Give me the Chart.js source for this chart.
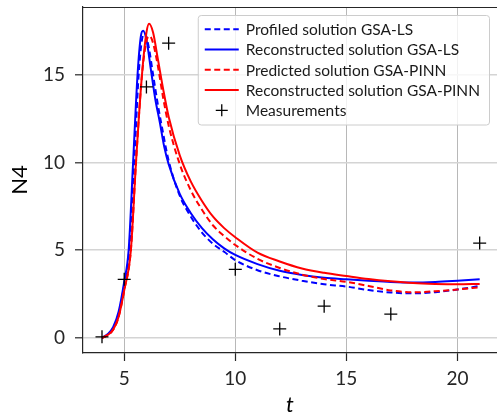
<!DOCTYPE html>
<html>
<head>
<meta charset="utf-8">
<script src="https://cdn.jsdelivr.net/npm/chart.js@4/dist/chart.umd.min.js"></script>
<style>
html,body{margin:0;padding:0;background:#fff;overflow:hidden;}
canvas{display:block;}
</style>
</head>
<body>
<canvas id="c" width="497" height="416"></canvas>
<script>
// ---- data ----
const xTicks = [5, 10, 15, 20];
const yTicks = [0, 5, 10, 15];

const tMeas = [4, 5, 6, 7, 10, 12, 14, 17, 21];
const yMeas = [0.05, 3.33, 14.3, 16.8, 3.9, 0.5, 1.8, 1.35, 5.4];

const tProfLS = [4,4.25,4.5,4.75,5,5.2,5.45,5.65,5.8,5.93,6.1,6.3,6.5,6.7,7,7.5,8,8.5,9,9.5,10,11,12,13,14,15,16,17,18,19,20,21];
const yProfLS = [0,0.15,0.5,1.3,3.0,4.6,10.0,15.0,17.0,17.35,16.6,15.0,13.4,12.0,10.1,8.1,6.9,6.0,5.35,4.9,4.43,3.85,3.5,3.25,3.05,2.92,2.72,2.58,2.53,2.6,2.75,2.95];

const tRecLS = [4,4.25,4.5,4.75,5,5.2,5.4,5.6,5.75,5.85,6,6.2,6.4,6.6,6.8,7,7.5,8,8.5,9,9.5,10,11,12,13,14,15,16,17,18,19,20,21];
const yRecLS = [0,0.2,0.6,1.5,3.2,5.0,10.0,15.0,17.2,17.5,17.0,15.3,13.6,12.3,10.9,9.9,8.2,7.1,6.25,5.6,5.1,4.72,4.2,3.82,3.58,3.42,3.33,3.25,3.18,3.15,3.18,3.25,3.33];

const tPredPINN = [4,4.25,4.5,4.75,5,5.3,5.53,5.8,6,6.15,6.3,6.5,6.75,7,7.5,8,8.5,9,9.5,10,11,12,13,14,15,16,17,18,19,20,21];
const yPredPINN = [0,0.15,0.45,1.2,2.7,5.0,10.0,15.0,16.9,17.2,16.8,15.6,13.7,12.1,9.9,8.4,7.3,6.4,5.8,5.29,4.5,3.98,3.6,3.35,3.19,2.95,2.7,2.59,2.65,2.75,2.88];

const tRecPINN = [4,4.25,4.5,4.75,5,5.3,5.53,5.8,6,6.12,6.3,6.5,6.75,7,7.5,8,8.5,9,9.5,10,11,12,13,14,15,16,17,18,19,20,21];
const yRecPINN = [0,0.15,0.45,1.2,2.7,5.0,10.0,15.0,17.4,17.9,17.4,16.0,14.2,12.6,10.4,8.9,7.8,6.9,6.25,5.73,4.85,4.35,3.95,3.7,3.52,3.35,3.22,3.12,3.07,3.05,3.07];

const labels = [
  'Profiled solution GSA-LS',
  'Reconstructed solution GSA-LS',
  'Predicted solution GSA-PINN',
  'Reconstructed solution GSA-PINN',
  'Measurements'
];

const pts = (xs, ys) => xs.map((x, i) => ({x: x, y: ys[i]}));

const BLUE = '#0000ff', RED = '#ff0000', AXIS = '#262626';
const DASH = [6, 3.5];

const lineDs = (label, xs, ys, color, dash, order) => ({
  type: 'line', label, data: pts(xs, ys), borderColor: color, backgroundColor: color,
  borderWidth: 2, borderDash: dash, pointRadius: 0, fill: false,
  cubicInterpolationMode: 'monotone', order
});

// legend + top spine plugin
const legendPlugin = {
  id: 'boxLegend',
  afterDatasetsDraw(chart) {
    const ctx = chart.ctx, ca = chart.chartArea;
    ctx.save();
    ctx.strokeStyle = AXIS; ctx.lineWidth = 1.2;
    ctx.beginPath(); ctx.moveTo(ca.left, ca.top + 0.5); ctx.lineTo(ca.right, ca.top + 0.5); ctx.stroke();

    ctx.font = '15.5px Lato';
    let maxW = 0;
    labels.forEach(l => { maxW = Math.max(maxW, ctx.measureText(l).width); });
    const rowH = 20.3, sample = 34, padL = 7, gap = 7, padR = 9;
    const w = padL + sample + gap + maxW + padR;
    const h = rowH * labels.length + 8;
    const bx = ca.right - 8 - w, by = ca.top + 8;
    ctx.fillStyle = 'rgba(255,255,255,0.8)';
    ctx.strokeStyle = '#cccccc'; ctx.lineWidth = 1;
    ctx.beginPath();
    if (ctx.roundRect) ctx.roundRect(bx + 0.5, by + 0.5, w, h, 3); else ctx.rect(bx + 0.5, by + 0.5, w, h);
    ctx.fill(); ctx.stroke();
    const items = chart.data.datasets;
    [0, 1, 2, 3, 4].forEach((di, i) => {
      const ds = items[di];
      const cy = by + 4 + rowH * (i + 0.5);
      const x0 = bx + padL;
      if (di < 4) {
        ctx.strokeStyle = ds.borderColor; ctx.lineWidth = 2;
        ctx.setLineDash(ds.borderDash || []);
        ctx.beginPath(); ctx.moveTo(x0, cy); ctx.lineTo(x0 + sample, cy); ctx.stroke();
        ctx.setLineDash([]);
      } else {
        const cx = x0 + sample / 2;
        ctx.strokeStyle = '#000'; ctx.lineWidth = 1.3;
        ctx.beginPath(); ctx.moveTo(cx - 6, cy); ctx.lineTo(cx + 6, cy);
        ctx.moveTo(cx, cy - 6); ctx.lineTo(cx, cy + 6); ctx.stroke();
      }
      ctx.fillStyle = '#1a1a1a';
      ctx.textBaseline = 'middle'; ctx.textAlign = 'left';
      ctx.fillText(labels[di], x0 + sample + gap, cy + 1);
    });
    ctx.restore();
  }
};

new Chart(document.getElementById('c'), {
  type: 'line',
  data: {
    datasets: [
      lineDs(labels[0], tProfLS, yProfLS, BLUE, DASH, 4),
      lineDs(labels[1], tRecLS, yRecLS, BLUE, [], 3),
      lineDs(labels[2], tPredPINN, yPredPINN, RED, DASH, 2),
      lineDs(labels[3], tRecPINN, yRecPINN, RED, [], 1),
      {
        type: 'scatter', label: labels[4], data: pts(tMeas, yMeas), showLine: false,
        pointStyle: 'cross', pointRadius: 6.5, pointBorderWidth: 1.3,
        borderColor: '#000', backgroundColor: '#000', pointHoverRadius: 6.5, order: 0
      }
    ]
  },
  plugins: [legendPlugin],
  options: {
    responsive: false, animation: false, devicePixelRatio: 1,
    layout: {autoPadding: false, padding: {top: 7, right: 0, left: 0, bottom: 0}},
    plugins: {legend: {display: false}, tooltip: {enabled: false}},
    scales: {
      x: {
        type: 'linear', min: 3.145, max: 21.78,
        afterBuildTicks: s => { s.ticks = xTicks.map(v => ({value: v})); },
        afterFit: s => { s.height = 63; s.paddingRight = 0; s.paddingLeft = 0; },
        grid: {color: '#b8b8b8', lineWidth: 1, drawTicks: true, tickLength: 8, tickColor: AXIS, tickWidth: 1.2},
        border: {display: true, color: AXIS, width: 1.2},
        ticks: {font: {family: 'Lato', size: 19}, color: AXIS, padding: 6, maxRotation: 0},
        title: {display: true, text: 't', font: {family: 'Lato', size: 22, style: 'italic', lineHeight: 1}, color: '#000', padding: {top: 0, bottom: 0}}
      },
      y: {
        type: 'linear', min: -0.87, max: 18.86,
        afterBuildTicks: s => { s.ticks = yTicks.map(v => ({value: v})); },
        afterFit: s => { s.width = 83; s.paddingTop = 0; s.paddingBottom = 0; },
        grid: {color: '#d4d4d4', lineWidth: 1.6, drawTicks: true, tickLength: 8, tickColor: AXIS, tickWidth: 1.2},
        border: {display: true, color: AXIS, width: 1.2},
        ticks: {font: {family: 'Lato', size: 19}, color: AXIS, padding: 10},
        title: {display: true, text: 'N4', font: {family: 'Lato', size: 22, lineHeight: 1}, color: '#000', padding: {top: 9, bottom: 0}}
      }
    }
  }
});
</script>
</body>
</html>
